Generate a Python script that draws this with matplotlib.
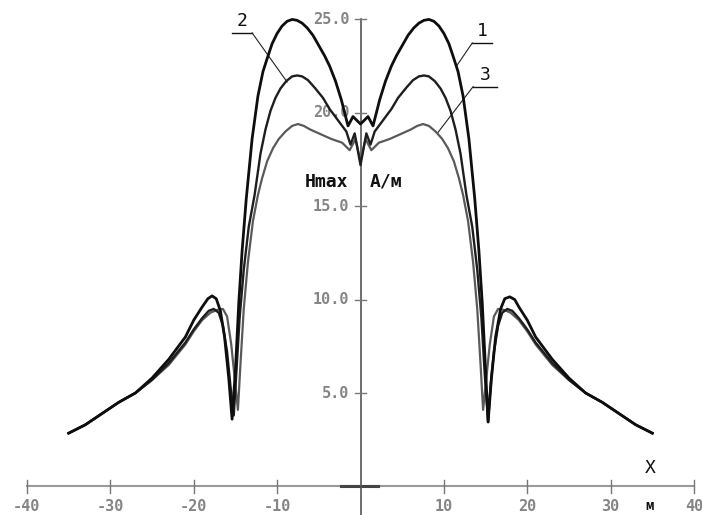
#!/usr/bin/env python

import matplotlib.pyplot as plt

# Hmax(X) profiles, three variants (1, 2, 3)
x1 = [-35.0, -33.0, -31.0, -29.0, -27.0, -25.0, -23.0, -21.0, -20.0, -19.0, -18.3, -17.8, -17.3,
      -16.8, -16.3, -15.8, -15.4, -15.0, -14.6, -14.2, -13.7, -13.0, -12.3, -11.7, -11.2, -10.6,
      -10.0, -9.4, -8.8, -8.2, -7.6, -7.0, -6.4, -5.7, -5.0, -4.3, -3.7, -3.0, -2.3, -1.5, -0.9, 0.0,
      0.9, 1.5, 2.3, 3.0, 3.7, 4.3, 5.0, 5.7, 6.4, 7.0, 7.6, 8.2, 8.8, 9.4, 10.0, 10.6, 11.2,
      11.7, 12.3, 13.0, 13.7, 14.2, 14.6, 15.0, 15.3, 15.7, 16.2, 16.8, 17.3, 17.9, 18.5, 19.0,
      20.0, 21.0, 23.0, 25.0, 27.0, 29.0, 31.0, 33.0, 35.0]
h1 = [2.85, 3.3, 3.9, 4.5, 5.0, 5.8, 6.8, 8.0, 8.9, 9.6, 10.05, 10.2, 10.05,
      9.4, 8.0, 5.8, 3.6, 6.2, 9.8, 12.6, 15.4, 18.6, 20.9, 22.2, 22.9, 23.7,
      24.25, 24.65, 24.9, 25.0, 24.95, 24.8, 24.55, 24.15, 23.6, 23.05, 22.5, 21.7, 20.7, 19.3, 19.8, 19.4,
      19.8, 19.3, 20.7, 21.7, 22.5, 23.05, 23.6, 24.15, 24.55, 24.8, 24.95, 25.0, 24.9, 24.65, 24.25, 23.7, 22.9,
      22.2, 20.9, 18.6, 15.4, 12.6, 9.8, 6.2, 3.45, 5.8, 8.0, 9.5, 10.05, 10.15, 10.0, 9.6,
      8.9, 8.0, 6.8, 5.8, 5.0, 4.5, 3.9, 3.3, 2.85]

x2 = [-35.0, -33.0, -31.0, -29.0, -27.0, -25.0, -23.0, -21.0, -20.0, -19.0, -18.2, -17.6, -17.0,
      -16.5, -16.0, -15.6, -15.2, -14.9, -14.5, -14.0, -13.4, -12.7, -12.0, -11.4, -10.8, -10.2,
      -9.6, -8.9, -8.2, -7.6, -7.0, -6.3, -5.5, -4.5, -3.7, -2.7, -1.7, -1.2, -0.7, 0.0,
      0.7, 1.2, 1.7, 2.7, 3.7, 4.5, 5.5, 6.3, 7.0, 7.6, 8.2, 8.9, 9.6, 10.2, 10.8, 11.4, 12.0,
      12.7, 13.4, 14.0, 14.5, 14.9, 15.3, 15.6, 16.0, 16.5, 17.0, 17.6, 18.2, 19.0, 20.0, 21.0,
      23.0, 25.0, 27.0, 29.0, 31.0, 33.0, 35.0]
h2 = [2.85, 3.3, 3.9, 4.5, 5.0, 5.7, 6.6, 7.7, 8.4, 9.0, 9.4, 9.5, 9.3,
      8.6, 7.2, 5.4, 3.8, 6.0, 9.0, 11.6, 13.9, 15.6, 17.8, 19.1, 20.1, 20.8,
      21.3, 21.7, 21.95, 22.0, 21.95, 21.75, 21.35, 20.8, 20.2, 19.6, 19.0, 18.3, 18.9, 17.2,
      18.9, 18.3, 19.0, 19.6, 20.2, 20.8, 21.35, 21.75, 21.95, 22.0, 21.95, 21.7, 21.3, 20.8, 20.1, 19.1, 17.8,
      15.6, 13.9, 11.6, 9.0, 6.0, 3.45, 5.4, 7.2, 8.6, 9.3, 9.5, 9.4, 9.0, 8.4, 7.7,
      6.6, 5.7, 5.0, 4.5, 3.9, 3.3, 2.85]

x3 = [-35.0, -33.0, -31.0, -29.0, -27.0, -25.0, -23.0, -21.0, -20.0, -19.0, -18.0, -17.2, -16.5,
      -16.0, -15.5, -15.0, -14.7, -14.4, -14.0, -13.5, -12.9, -12.3, -11.8, -11.2, -10.5, -9.8,
      -9.0, -8.2, -7.5, -6.8, -6.0, -5.0, -3.5, -2.2, -1.3, -0.6, 0.0,
      0.6, 1.3, 2.2, 3.5, 5.0, 6.0, 6.8, 7.5, 8.2, 9.0, 9.8, 10.5, 11.2, 11.8, 12.3, 12.9, 13.5,
      14.0, 14.4, 14.7, 15.0, 15.5, 16.0, 16.5, 17.2, 18.0, 19.0, 20.0, 21.0, 23.0, 25.0, 27.0,
      29.0, 31.0, 33.0, 35.0]
h3 = [2.85, 3.3, 3.9, 4.5, 5.0, 5.7, 6.5, 7.6, 8.3, 8.9, 9.3, 9.45, 9.5,
      9.1, 7.6, 5.4, 4.1, 6.5, 9.5, 12.0, 14.2, 15.6, 16.5, 17.4, 18.1, 18.6,
      19.0, 19.3, 19.4, 19.3, 19.1, 18.9, 18.6, 18.4, 18.0, 18.6, 17.4,
      18.6, 18.0, 18.4, 18.6, 18.9, 19.1, 19.3, 19.4, 19.3, 19.0, 18.6, 18.1, 17.4, 16.5, 15.6, 14.2, 12.0,
      9.5, 6.5, 4.1, 5.4, 7.6, 9.1, 9.5, 9.45, 9.3, 8.9, 8.3, 7.6, 6.5, 5.7, 5.0,
      4.5, 3.9, 3.3, 2.85]

xticks = [-40, -30, -20, -10, 10, 20, 30, 40]
yticks = [5, 10, 15, 20, 25]

fig = plt.figure(figsize=(7.02, 5.15), dpi=100)
ax = fig.add_axes([0, 0, 1, 1])
ax.set_xlim(-43.23, 40.95)
ax.set_ylim(-1.53, 26.04)
ax.axis('off')

mono = 'DejaVu Sans Mono'
tick_col = '#858585'

# axes
ax.plot([xticks[0], xticks[-1]], [0, 0], color='#9a9a9a', lw=1.5, zorder=1)
ax.plot([-2.3, 2.1], [0, 0], color='#444444', lw=2.2, zorder=2)
ax.plot([0, 0], [-1.6, yticks[-1]], color='#555555', lw=1.2, zorder=2)
for t in xticks:
    ax.plot([t, t], [-0.37, 0.37], color='#777777', lw=1.0)
    ax.text(t, -1.05, str(t), ha='center', va='center', family=mono,
            fontsize=11, fontweight='bold', color=tick_col)
for t in yticks:
    ax.plot([-0.7, 0.7], [t, t], color='#777777', lw=1.0)
    ax.text(-1.35, t, '%.1f' % t, ha='right', va='center', family=mono,
            fontsize=11, fontweight='bold', color=tick_col)

# curves
ax.plot(x3, h3, color='#5a5a5a', lw=1.6, zorder=3)
ax.plot(x2, h2, color='#1e1e1e', lw=1.7, zorder=4)
ax.plot(x1, h1, color='#0e0e0e', lw=2.0, zorder=5)

# axis captions
ax.text(-1.5, 16.3, 'Hmax', ha='right', va='center', family=mono,
        fontsize=13, fontweight='bold', color='#111111')
ax.text(1.1, 16.3, 'A/м', ha='left', va='center', family=mono,
        fontsize=13, fontweight='bold', color='#111111')
ax.text(34.7, 1.0, 'X', ha='center', va='center', family=mono,
        fontsize=13, color='#111111')
ax.text(34.7, -1.05, 'м', ha='center', va='center', family=mono,
        fontsize=10, fontweight='bold', color='#111111')

# curve numbers with leaders
marks = [('1', 13.4, 15.8, 23.74, 11.6, 22.56, 13.4),
         ('2', -15.4, -13.0, 24.28, -8.8, 21.65, -13.0),
         ('3', 13.5, 16.4, 21.40, 9.2, 18.90, 13.5)]
for lab, xa, xb, yl, xe, ye, xs in marks:
    ax.plot([xa, xb], [yl, yl], color='#111111', lw=1.0)
    ax.plot([xs, xe], [yl, ye], color='#222222', lw=0.8)
    ax.text((xa + xb) / 2, yl + 0.15, lab, ha='center', va='bottom', family=mono,
            fontsize=13, color='#111111')

fig.savefig('out.png', dpi=100)
